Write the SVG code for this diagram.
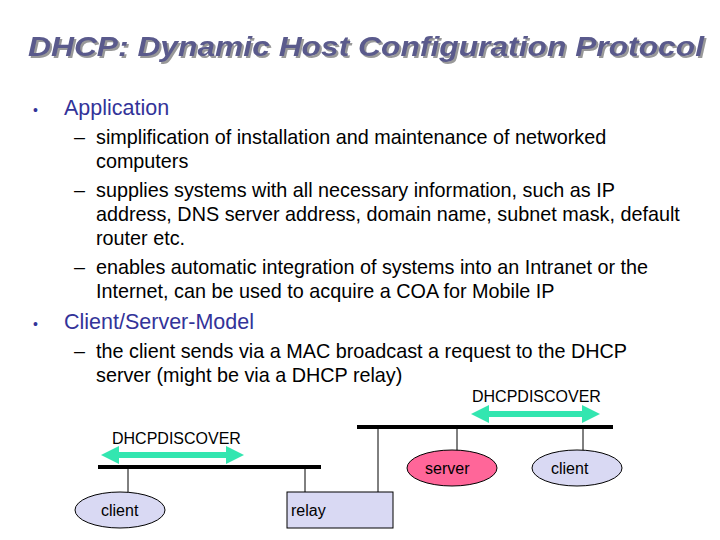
<svg xmlns="http://www.w3.org/2000/svg" width="720" height="540" viewBox="0 0 720 540">
<defs>
<style>
text{font-family:"Liberation Sans",Arial,sans-serif}
.t{font-size:19.8px;fill:#000}
.b{font-size:21.5px;fill:#333399}
.l{font-size:16px;fill:#000}
.bus{stroke:#000;stroke-width:4}
.ln{stroke:#000;stroke-width:1}
.arr{stroke:#33e6b0;stroke-width:6;marker-start:url(#a);marker-end:url(#a)}
.node{fill:#d9d9f3;stroke:#000;stroke-width:1}
</style>
<filter id="sh" x="-5%" y="-20%" width="110%" height="150%"><feDropShadow dx="2" dy="2" stdDeviation="0.6" flood-color="#999"/></filter>
<marker id="a" viewBox="0 0 10 10" refX="5" refY="5" markerWidth="3" markerHeight="3" orient="auto-start-reverse"><path d="M0,0L10,5L0,10z" fill="#33e6b0"/></marker>
</defs>
<rect width="720" height="540" fill="#fff"/>
<text x="28" y="56" font-size="28" font-style="italic" font-weight="bold" fill="#5a5a8c" textLength="676" lengthAdjust="spacingAndGlyphs" filter="url(#sh)">DHCP: Dynamic Host Configuration Protocol</text>
<text x="33" y="115" font-size="14" fill="#333399">•</text>
<text x="64" y="115" class="b">Application</text>
<text x="74" y="144" class="t">–</text><text x="96" y="144" class="t">simplification of installation and maintenance of networked</text>
<text x="96" y="168" class="t">computers</text>
<text x="74" y="197" class="t">–</text><text x="96" y="197" class="t">supplies systems with all necessary information, such as IP</text>
<text x="96" y="221" class="t">address, DNS server address, domain name, subnet mask, default</text>
<text x="96" y="245" class="t">router etc.</text>
<text x="74" y="274" class="t">–</text><text x="96" y="274" class="t">enables automatic integration of systems into an Intranet or the</text>
<text x="96" y="298" class="t">Internet, can be used to acquire a COA for Mobile IP</text>
<text x="33" y="329" font-size="14" fill="#333399">•</text>
<text x="64" y="329" class="b">Client/Server-Model</text>
<text x="74" y="358" class="t">–</text><text x="96" y="358" class="t">the client sends via a MAC broadcast a request to the DHCP</text>
<text x="96" y="382" class="t">server (might be via a DHCP relay)</text>
<g id="connectors">
<line class="bus" x1="98" y1="467" x2="321" y2="467"/>
<line class="bus" x1="357" y1="427" x2="613" y2="427"/>
<line class="ln" x1="128" y1="467" x2="128" y2="493"/>
<line class="ln" x1="305" y1="467" x2="305" y2="492"/>
<line class="ln" x1="378" y1="427" x2="378" y2="492"/>
<line class="ln" x1="457" y1="427" x2="457" y2="451"/>
<line class="ln" x1="583" y1="427" x2="583" y2="451"/>
<line class="arr" x1="110" y1="455" x2="235" y2="455"/>
<line class="arr" x1="480" y1="414" x2="591" y2="414"/>
<text x="112" y="444" class="l">DHCPDISCOVER</text>
<text x="472" y="402" class="l">DHCPDISCOVER</text>
</g>
<g id="client1"><ellipse class="node" cx="120" cy="510" rx="45" ry="18"/><text x="101" y="516" class="l">client</text></g>
<g id="relay"><rect class="node" x="287" y="492" width="106" height="36"/><text x="291" y="516" class="l">relay</text></g>
<g id="server"><ellipse class="node" cx="452" cy="468" rx="45" ry="18" style="fill:#ff6699"/><text x="425" y="474" class="l">server</text></g>
<g id="client2"><ellipse class="node" cx="577" cy="468" rx="45" ry="18"/><text x="551" y="474" class="l">client</text></g>
</svg>
